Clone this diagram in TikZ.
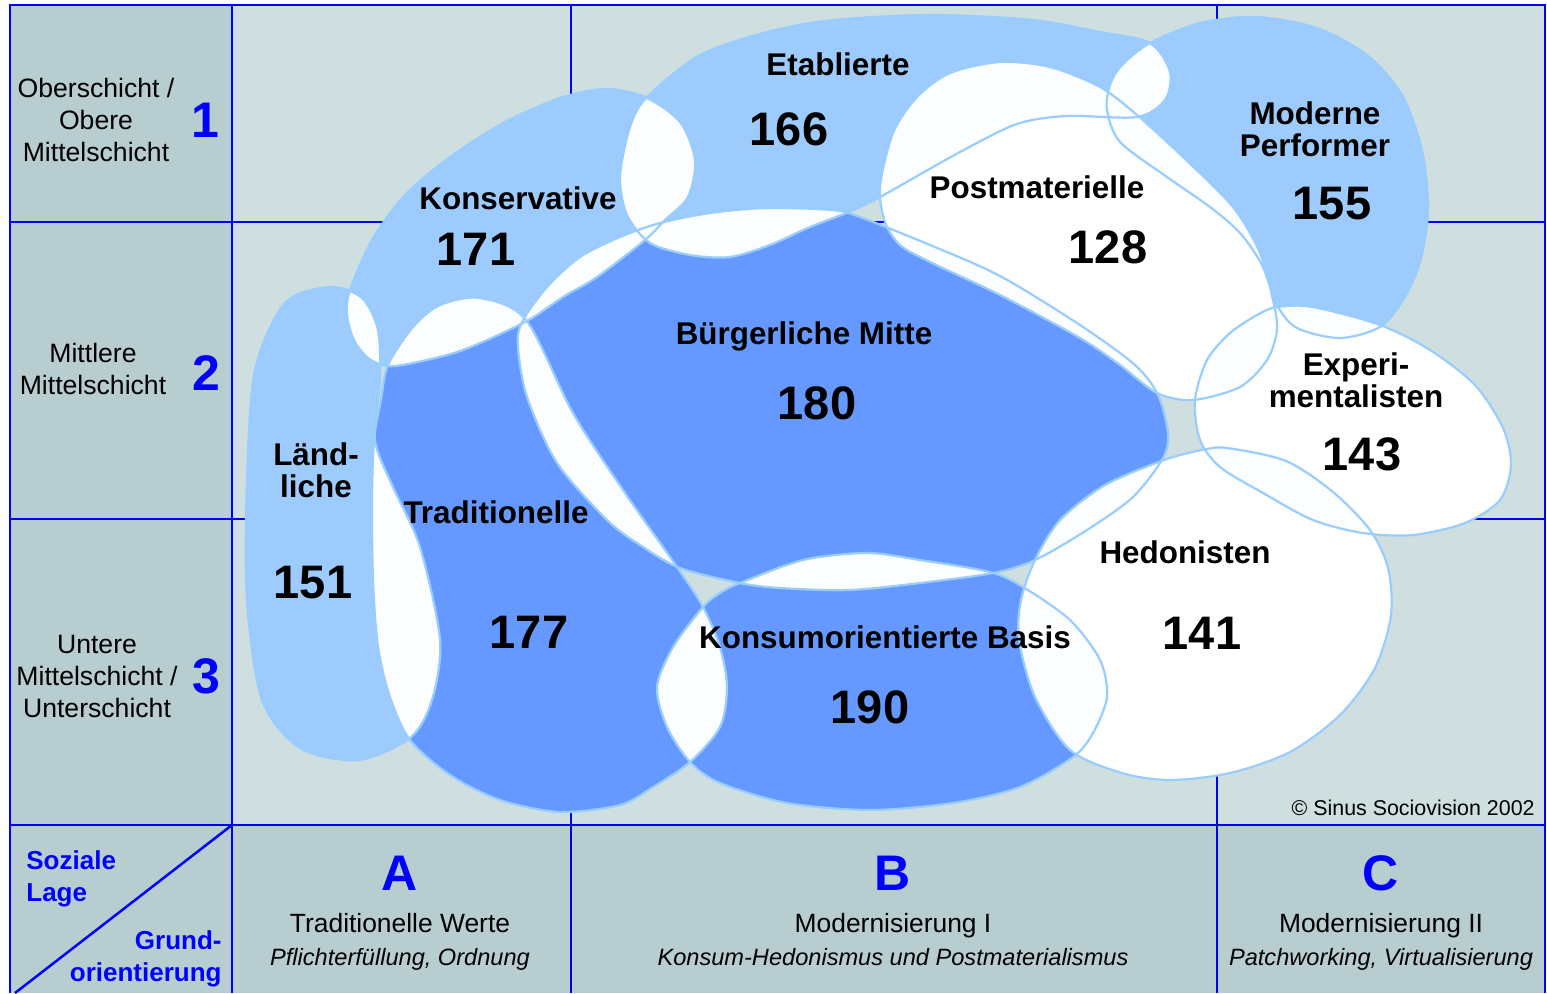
\documentclass[tikz,border=0pt]{standalone}
\usepackage{fontspec}
\setmainfont{Liberation Sans}
\definecolor{gridblue}{HTML}{0000FF}
\definecolor{darkbg}{HTML}{B8CDD0}
\definecolor{lightbg}{HTML}{CFDFE0}
\definecolor{paleblue}{HTML}{9DCBFD}
\definecolor{midblue}{HTML}{6699FF}
\definecolor{rimblue}{HTML}{99CCFF}
\definecolor{lenswhite}{HTML}{FBFDFF}
\tikzstyle{milieu} = [font=\fontsize{15.7}{16}\selectfont\bfseries, align=center,
    inner sep=0pt, text depth=0pt]
\tikzstyle{count} = [font=\fontsize{23.5}{26}\selectfont\bfseries, inner sep=0pt]
\tikzset{%
    layer/.style    = {font=\fontsize{13.3}{16}\selectfont, align=center, inner sep=0pt},
    level/.style    = {font=\fontsize{25}{28}\selectfont\bfseries, text=gridblue, inner sep=0pt},
    axis/.style     = {font=\fontsize{13}{16}\selectfont\bfseries, text=gridblue, inner sep=0pt},
    werte/.style    = {font=\fontsize{13.2}{16}\selectfont, inner sep=0pt, text depth=0pt},
    subline/.style  = {font=\fontsize{11.8}{14}\selectfont\itshape, inner sep=0pt, text depth=0pt},
    rim/.style      = {draw=rimblue, line width=1.1pt},
    grid/.style     = {draw=gridblue, line width=1.25pt},
}
% outlines of the milieus, in pixel units of the picture
\def\blobLaendl{plot[smooth cycle] coordinates {(330,287) (362,298) (378,330) (380,380)
    (375,440) (393,487) (420,547) (440,640) (432,700) (410,738) (358,760) (300,748)
    (262,700) (247,600) (247,480) (255,370) (285,303)}}
\def\blobKons{plot[smooth cycle] coordinates {(350,290) (372,240) (405,195) (450,157)
    (505,122) (560,98) (605,89) (645,97) (680,122) (695,160) (688,197) (665,220)
    (645,240) (597,277) (563,297) (525,322) (463,350) (413,363) (387,366) (368,358)
    (354,340) (347,315)}}
\def\blobEtab{plot[smooth cycle] coordinates {(647,97) (700,55) (767,32) (833,20)
    (933,15) (1033,20) (1100,32) (1150,43) (1170,72) (1165,100) (1137,117) (1067,116)
    (1017,124) (960,152) (880,197) (849,212) (810,227) (770,245) (730,257) (690,255)
    (650,243) (627,215) (620,177) (630,127)}}
\def\blobPerf{plot[smooth cycle] coordinates {(1150,43) (1200,23) (1257,17) (1317,28)
    (1367,55) (1402,95) (1422,150) (1428,210) (1420,262) (1403,300) (1380,327)
    (1340,338) (1297,328) (1277,305) (1262,265) (1240,233) (1210,207) (1167,177)
    (1120,142) (1107,110) (1110,85) (1122,65)}}
\def\blobPostmat{plot[smooth cycle] coordinates {(880,187) (893,133) (917,97) (950,73)
    (1000,62) (1050,67) (1100,87) (1137,115) (1183,157) (1233,207) (1260,253)
    (1273,300) (1277,330) (1267,360) (1240,387) (1193,400) (1157,393) (1120,365)
    (1080,338) (1000,295) (930,262) (900,245) (885,222)}}
\def\blobBuerg{plot[smooth cycle] coordinates {(522,322) (547,287) (580,257) (620,237)
    (660,223) (710,213) (766,208) (832,210) (860,217) (930,245) (1000,276) (1080,325)
    (1135,365) (1158,395) (1168,433) (1163,458) (1133,497) (1087,530) (1035,560)
    (993,573) (920,583) (849,590) (780,588) (740,583) (680,568) (640,545) (607,520)
    (557,463) (527,397) (518,347)}}
\def\blobTrad{plot[smooth cycle] coordinates {(388,365) (413,327) (440,305) (480,298)
    (526,320) (573,413) (623,490) (677,567) (703,607) (720,647) (727,687) (720,727)
    (690,762) (653,787) (620,805) (560,812) (500,800) (450,775) (410,740) (390,697)
    (378,647) (373,580) (372,500) (374,440) (381,400)}}
\def\blobKonsum{plot[smooth cycle] coordinates {(703,607) (720,593) (740,583) (803,560)
    (867,553) (920,560) (990,572) (1023,587) (1070,620) (1100,660) (1107,697)
    (1093,733) (1073,757) (1020,787) (953,803) (870,810) (787,803) (720,783) (690,762)
    (667,727) (657,687) (673,647)}}
\def\blobExper{plot[smooth cycle] coordinates {(1277,307) (1313,307) (1380,325)
    (1430,350) (1475,385) (1503,428) (1511,465) (1500,500) (1465,523) (1413,535)
    (1363,533) (1313,520) (1263,493) (1220,467) (1200,440) (1195,400) (1207,360)
    (1230,333) (1257,315)}}
\def\blobHedo{plot[smooth cycle] coordinates {(1227,448) (1202,450) (1164,460)
    (1105,485) (1060,520) (1035,560) (1021,600) (1019,640) (1035,697) (1070,750)
    (1122,773) (1170,780) (1230,773) (1290,752) (1340,715) (1375,668) (1391,615)
    (1388,568) (1370,530) (1333,492) (1286,461)}}

\begin{document}
\begin{tikzpicture}[x=0.5pt, y=-0.5pt, node distance=25pt]
    \useasboundingbox (0,0) rectangle (1547,993);
    % We start with the backgrounds and the grid
    \fill[lightbg] (10,5) rectangle (1545,993);
    \fill[darkbg] (10,5) rectangle (232,825);
    \fill[darkbg] (10,825) rectangle (1545,993);
    \draw[grid] (10,993) -- (10,5) -- (1545,5) -- (1545,993);
    \draw[grid] (10,222) -- (1545,222);
    \draw[grid] (10,519) -- (1545,519);
    \draw[grid] (10,825) -- (1545,825);
    \draw[grid] (232,5) -- (232,993);
    \draw[grid] (571,5) -- (571,993);
    \draw[grid] (1217,5) -- (1217,993);
    \draw[grid] (232,825) -- (15,993);

    % the milieus
    \foreach \b/\c in {Laendl/paleblue, Kons/paleblue, Etab/paleblue, Perf/paleblue,
        Postmat/white, Buerg/midblue, Trad/midblue, Konsum/midblue, Exper/white, Hedo/white}{
        \expandafter\let\expandafter\blob\csname blob\b\endcsname
        \fill[\c] \blob;
    }
    % overlaps are white
    \foreach \a/\b in {Laendl/Kons, Laendl/Trad, Kons/Etab, Kons/Trad, Kons/Buerg,
        Etab/Buerg, Etab/Postmat, Etab/Perf, Perf/Postmat, Perf/Exper, Postmat/Buerg,
        Postmat/Exper, Buerg/Trad, Buerg/Konsum, Buerg/Hedo, Trad/Konsum, Konsum/Hedo,
        Exper/Hedo}{
        \expandafter\let\expandafter\blobA\csname blob\a\endcsname
        \expandafter\let\expandafter\blobB\csname blob\b\endcsname
        \begin{scope}
            \clip \blobA;
            \fill[lenswhite] \blobB;
        \end{scope}
    }
    \foreach \b in {Laendl, Kons, Etab, Perf, Postmat, Buerg, Trad, Konsum, Exper, Hedo}{
        \expandafter\let\expandafter\blob\csname blob\b\endcsname
        \draw[rim] \blob;
    }

    % names and numbers
    \node[milieu] (etab) at (838,64) {Etablierte};
    \node[count] (n166) at (789,129) {166};
    \node[milieu] (kons) at (518,198) {Konservative};
    \node[count] (n171) at (476,249) {171};
    \node[milieu] (perf) at (1315,129) {Moderne\\Performer};
    \node[count] (n155) at (1332,204) {155};
    \node[milieu] (postmat) at (1037,187) {Postmaterielle};
    \node[count] (n128) at (1108,247) {128};
    \node[milieu] (buerg) at (804,333) {Bürgerliche Mitte};
    \node[count] (n180) at (817,403) {180};
    \node[milieu] (exper) at (1356,380) {Experi-\\mentalisten};
    \node[count] (n143) at (1362,454) {143};
    \node[milieu] (laendl) at (316,470) {Länd-\\liche};
    \node[count] (n151) at (313,583) {151};
    \node[milieu] (trad) at (496,512) {Traditionelle};
    \node[count] (n177) at (529,632) {177};
    \node[milieu] (hedo) at (1185,552) {Hedonisten};
    \node[count] (n141) at (1202,633) {141};
    \node[milieu] (konsum) at (885,637) {Konsumorientierte Basis};
    \node[count] (n190) at (870,707) {190};

    % social layers
    \node[layer] (ober) at (96,120) {Oberschicht /\\Obere\\Mittelschicht};
    \node[level] (lev1) at (205,120) {1};
    \node[layer] (mitte) at (93,369) {Mittlere\\Mittelschicht};
    \node[level] (lev2) at (206,373) {2};
    \node[layer] (unter) at (97,676) {Untere\\Mittelschicht /\\Unterschicht};
    \node[level] (lev3) at (206,676) {3};
    \node[axis, anchor=west, align=left] (lage) at (26,879) {Soziale\\Lage};
    \node[axis, anchor=east, align=right] (grund) at (222,959) {Grund-\\orientierung};

    % basic orientations
    \node[level] (colA) at (400,873) {A};
    \node[werte, below of = colA] (werteA) {Traditionelle Werte};
    \node[subline, below of = werteA, node distance=17pt] (subA) {Pflichterfüllung, Ordnung};
    \node[level] (colB) at (893,873) {B};
    \node[werte, below of = colB] (werteB) {Modernisierung I};
    \node[subline, below of = werteB, node distance=17pt] (subB) {Konsum-Hedonismus und Postmaterialismus};
    \node[level] (colC) at (1381,873) {C};
    \node[werte, below of = colC] (werteC) {Modernisierung II};
    \node[subline, below of = werteC, node distance=17pt] (subC) {Patchworking, Virtualisierung};

    \node[font=\fontsize{10.7}{12}\selectfont, anchor=east, inner sep=0pt] (copy) at (1535,808) {© Sinus Sociovision 2002};
\end{tikzpicture}
\end{document}
